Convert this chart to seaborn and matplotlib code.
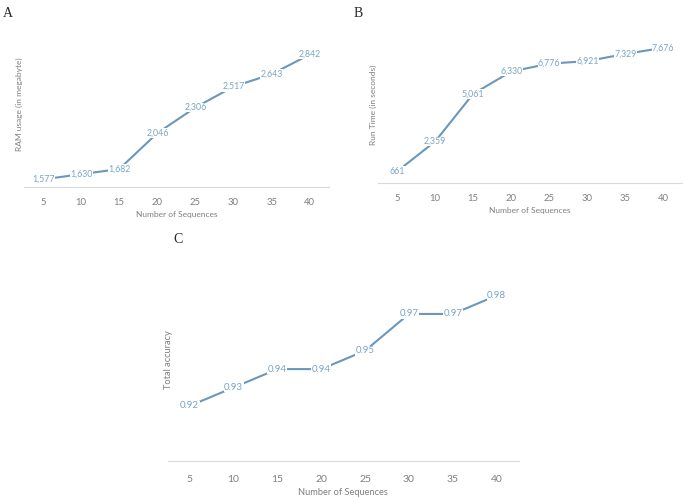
import numpy as np
import pandas as pd
import matplotlib
matplotlib.use("Agg")
import matplotlib.pyplot as plt
import seaborn as sns

sns.set_style("white")
plt.rcParams['font.family'] = ['Lato', 'DejaVu Sans']

# データ
sequences = [5, 10, 15, 20, 25, 30, 35, 40]
ram_usage = [1577, 1630, 1682, 2046, 2306, 2517, 2643, 2842]
run_time = [661, 2359, 5061, 6330, 6776, 6921, 7329, 7676]
accuracy = [0.92, 0.93, 0.94, 0.94, 0.95, 0.97, 0.97, 0.98]

line_color = "#6a97bb"
label_color = "#78a5c8"
tick_color = "#7f7f7f"
axis_color = "#d9d9d9"


def draw_panel(ax, values, ylabel, ylim, fmt, fs=6.5, tick_pad=6, ylabel_pad=1):
    df = pd.DataFrame({"seq": sequences, "val": values})
    sns.lineplot(data=df, x="seq", y="val", ax=ax, color=line_color, linewidth=1.5)
    for x, y in zip(sequences, values):
        ax.text(x, y, fmt(y), ha="center", va="center", fontsize=fs,
                color=label_color,
                bbox=dict(boxstyle="square,pad=0.05", fc="white", ec="none"))
    ax.set_xlim(2.5, 42.5)
    ax.set_ylim(*ylim)
    ax.set_xticks(sequences)
    ax.set_yticks([])
    ax.tick_params(axis="x", length=0, labelsize=fs + 0.5, colors=tick_color, pad=tick_pad)
    ax.set_xlabel("Number of Sequences", fontsize=fs - 0.3, color=tick_color, labelpad=3)
    ax.set_ylabel(ylabel, fontsize=fs - 0.3, color=tick_color, labelpad=ylabel_pad)
    for s in ["top", "right", "left"]:
        ax.spines[s].set_visible(False)
    ax.spines["bottom"].set_color(axis_color)
    ax.spines["bottom"].set_linewidth(0.8)


fig = plt.figure(figsize=(6.85, 4.98), dpi=100)
ax_a = fig.add_axes([0.035, 0.6245, 0.445, 0.331])
ax_b = fig.add_axes([0.552, 0.6325, 0.444, 0.313])
ax_c = fig.add_axes([0.245, 0.0743, 0.512, 0.406])

draw_panel(ax_a, ram_usage, "RAM usage (in megabyte)", (1500, 3170),
           lambda v: f"{v:,}", fs=6.3, tick_pad=8, ylabel_pad=1)
draw_panel(ax_b, run_time, "Run Time (in seconds)", (0, 8850),
           lambda v: f"{v:,}", fs=6.3, tick_pad=8, ylabel_pad=0.5)
draw_panel(ax_c, accuracy, "Total accuracy", (0.89, 1.0),
           lambda v: f"{v:.2f}", fs=7, tick_pad=10, ylabel_pad=-4)

# パネル記号
serif = ['Liberation Serif', 'DejaVu Serif']
fig.text(0.004, 0.985, "A", fontsize=10, family=serif, va="top")
fig.text(0.516, 0.985, "B", fontsize=10, family=serif, va="top")
fig.text(0.253, 0.533, "C", fontsize=10, family=serif, va="top")

fig.savefig("out.png", dpi=100)
